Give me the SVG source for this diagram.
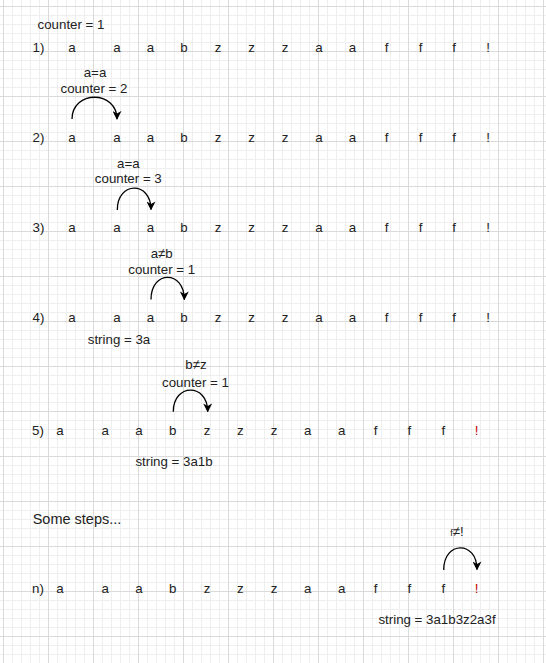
<svg xmlns="http://www.w3.org/2000/svg" width="546" height="663" viewBox="0 0 546 663">
<style>
text{font-family:"Liberation Sans",Arial,sans-serif;font-size:13.3px;fill:#222;text-anchor:middle}
.red{fill:#c00000}
.start{text-anchor:start}
.big{font-size:14.5px}
.edge{fill:none;stroke:#000;stroke-width:1.3;marker-end:url(#arr)}
</style>
<defs>
<pattern id="grid" patternUnits="userSpaceOnUse" x="3" y="6" width="45" height="45">
<path d="M9.5 0V45M18.5 0V45M27.5 0V45M36.5 0V45M0 9.5H45M0 18.5H45M0 27.5H45M0 36.5H45" stroke="#efefef" stroke-width="1" fill="none"/>
<path d="M0.5 0V45M0 0.5H45" stroke="#dadada" stroke-width="1" fill="none"/>
</pattern>
<marker id="arr" viewBox="0 0 10 10" refX="9" refY="5" markerWidth="9" markerHeight="9" markerUnits="userSpaceOnUse" orient="auto">
<path d="M0,0 L10,5 L0,10 L3,5 z" fill="#000"/>
</marker>
</defs>
<rect width="546" height="663" fill="#fff"/>
<rect width="546" height="663" fill="url(#grid)"/>

<g id="counter-init"><text x="71" y="29">counter = 1</text></g>

<g id="row1">
<text x="38.5" y="52">1)</text><text x="72" y="52">a</text><text x="117" y="52">a</text><text x="150.5" y="52">a</text><text x="184" y="52">b</text><text x="218" y="52">z</text><text x="251.5" y="52">z</text><text x="285" y="52">z</text><text x="319" y="52">a</text><text x="352.5" y="52">a</text><text x="386.5" y="52">f</text><text x="420.5" y="52">f</text><text x="454" y="52">f</text><text x="488" y="52">!</text>
</g>

<g id="label2"><text x="95" y="76.5">a=a</text><text x="94" y="93">counter = 2</text></g>
<g id="row2">
<text x="38.5" y="142">2)</text><text x="72" y="142">a</text><text x="117" y="142">a</text><text x="150.5" y="142">a</text><text x="184" y="142">b</text><text x="218" y="142">z</text><text x="251.5" y="142">z</text><text x="285" y="142">z</text><text x="319" y="142">a</text><text x="352.5" y="142">a</text><text x="386.5" y="142">f</text><text x="420.5" y="142">f</text><text x="454" y="142">f</text><text x="488" y="142">!</text>
</g>

<g id="label3"><text x="128.3" y="167.5">a=a</text><text x="128.3" y="183.3">counter = 3</text></g>
<g id="row3">
<text x="38.5" y="232">3)</text><text x="72" y="232">a</text><text x="117" y="232">a</text><text x="150.5" y="232">a</text><text x="184" y="232">b</text><text x="218" y="232">z</text><text x="251.5" y="232">z</text><text x="285" y="232">z</text><text x="319" y="232">a</text><text x="352.5" y="232">a</text><text x="386.5" y="232">f</text><text x="420.5" y="232">f</text><text x="454" y="232">f</text><text x="488" y="232">!</text>
</g>

<g id="label4"><text x="161.7" y="258.3">a≠b</text><text x="161.7" y="274">counter = 1</text></g>
<g id="row4">
<text x="38.5" y="322">4)</text><text x="72" y="322">a</text><text x="117" y="322">a</text><text x="150.5" y="322">a</text><text x="184" y="322">b</text><text x="218" y="322">z</text><text x="251.5" y="322">z</text><text x="285" y="322">z</text><text x="319" y="322">a</text><text x="352.5" y="322">a</text><text x="386.5" y="322">f</text><text x="420.5" y="322">f</text><text x="454" y="322">f</text><text x="488" y="322">!</text>
</g>
<g id="string4"><text x="119" y="343.5">string = 3a</text></g>

<g id="label5"><text x="196" y="369">b≠z</text><text x="195.5" y="386.5">counter = 1</text></g>
<g id="row5">
<text x="38" y="435">5)</text><text x="60" y="435">a</text><text x="105.3" y="435">a</text><text x="139" y="435">a</text><text x="172.7" y="435">b</text><text x="207" y="435">z</text><text x="240.3" y="435">z</text><text x="274" y="435">z</text><text x="307.7" y="435">a</text><text x="341.7" y="435">a</text><text x="375.7" y="435">f</text><text x="409.3" y="435">f</text><text x="443.3" y="435">f</text><text class="red" x="476.7" y="435">!</text>
</g>
<g id="string5"><text x="174" y="466">string = 3a1b</text></g>

<g id="some-steps"><text class="start big" x="32.7" y="524">Some steps...</text></g>

<g id="labeln"><text x="457" y="536"><tspan font-size="9px">f</tspan>≠!</text></g>
<g id="rown">
<text x="38" y="592.5">n)</text><text x="60" y="592.5">a</text><text x="105.3" y="592.5">a</text><text x="139" y="592.5">a</text><text x="172.7" y="592.5">b</text><text x="207" y="592.5">z</text><text x="240.3" y="592.5">z</text><text x="274" y="592.5">z</text><text x="307.7" y="592.5">a</text><text x="341.7" y="592.5">a</text><text x="375.7" y="592.5">f</text><text x="409.3" y="592.5">f</text><text x="443.3" y="592.5">f</text><text class="red" x="476.7" y="592.5">!</text>
</g>
<g id="stringn"><text x="437" y="624">string = 3a1b3z2a3f</text></g>

<g id="connectors">
<path class="edge" d="M72 119C72 90 117 90 117 119"/>
<path class="edge" d="M117.3 210C117.3 181 151 181 151 209.5"/>
<path class="edge" d="M151 299.5C151 270 184.3 270 184.3 299.5"/>
<path class="edge" d="M173.3 411.7C173.3 383 207.7 383 207.7 411.5"/>
<path class="edge" d="M443.7 570C443.7 540.5 477 540.5 477 569.5"/>
</g>
</svg>
